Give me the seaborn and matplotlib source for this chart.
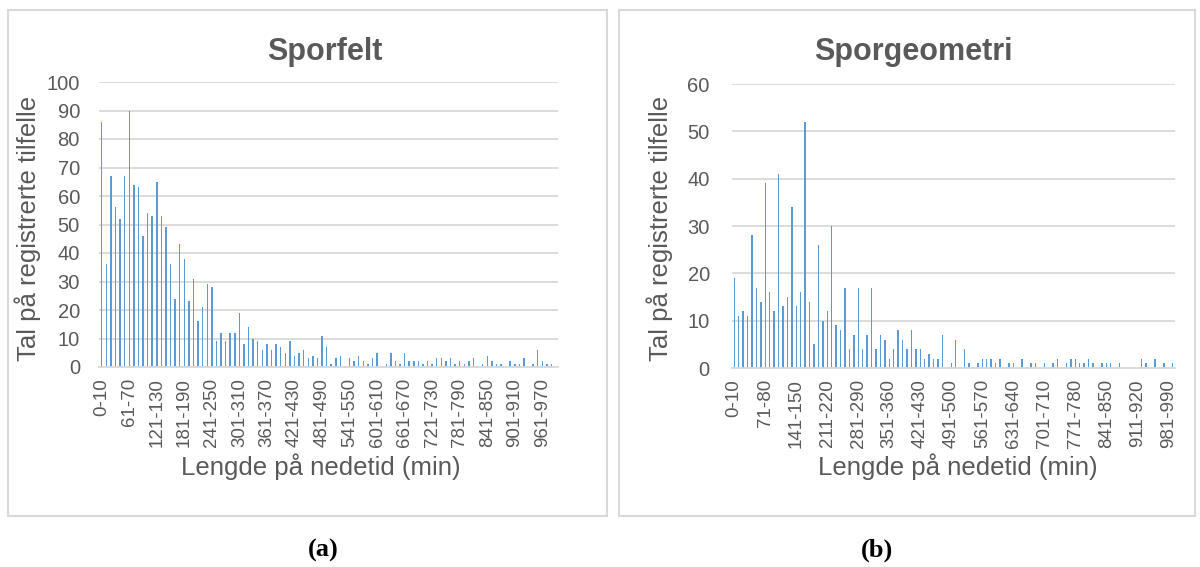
import numpy as np
import pandas as pd
import seaborn as sns
import matplotlib.pyplot as plt
from matplotlib.patches import Rectangle

# category labels: 10-minute bins of downtime length
bins = ["0-10"] + [f"{10*i+1}-{10*i+10}" for i in range(1, 100)]

# counts
sporfelt = [86, 36, 67, 56, 52, 67, 90, 64, 63, 46,
            54, 53, 65, 53, 49, 36, 24, 43, 38, 23,
            31, 16, 21, 29, 28, 9, 12, 9, 12, 12,
            19, 8, 14, 10, 9, 6, 8, 6, 8, 7,
            5, 9, 4, 5, 6, 3, 4, 3, 11, 7,
            1, 3, 4, 0, 3, 2, 4, 2, 1, 3,
            5, 0, 1, 5, 2, 1, 5, 2, 2, 2,
            1, 2, 1, 3, 3, 2, 3, 1, 2, 1,
            2, 3, 0, 1, 4, 2, 1, 1, 0, 2,
            1, 1, 3, 0, 1, 6, 2, 1, 1, 0]

sporgeometri = [19, 11, 12, 11, 28, 17, 14, 39, 16, 12,
                41, 13, 15, 34, 13, 16, 52, 14, 5, 26,
                10, 12, 30, 9, 8, 17, 4, 7, 17, 4,
                7, 17, 4, 7, 6, 2, 4, 8, 6, 4,
                8, 4, 4, 2, 3, 2, 2, 7, 0, 1,
                6, 0, 4, 1, 0, 1, 2, 2, 2, 1,
                2, 0, 1, 1, 0, 2, 0, 1, 1, 0,
                1, 0, 1, 2, 0, 1, 2, 2, 1, 1,
                2, 1, 0, 1, 1, 1, 0, 1, 0, 0,
                0, 0, 2, 1, 0, 2, 0, 1, 0, 1]

BLUE = "#5B9BD5"
GREY = "#595959"
LIGHT = "#D9D9D9"

sns.set_theme(style="white")
plt.rcParams["font.family"] = ["Liberation Sans", "DejaVu Sans"]

fig = plt.figure(figsize=(12, 5.67), dpi=100)
W, H = 1200, 567


def px_box(x0, y0, x1, y1):
    # pixel box (top-left origin) -> figure fraction [left, bottom, width, height]
    return [x0 / W, 1 - y1 / H, (x1 - x0) / W, (y1 - y0) / H]


# panel frames
for x0, x1 in [(8, 607), (619, 1195)]:
    l, b, w, h = px_box(x0, 10, x1, 516)
    fig.patches.append(Rectangle((l, b), w, h, transform=fig.transFigure,
                                 facecolor="none", edgecolor=LIGHT, lw=1.5))


def panel(box, values, step, ymax, ypad):
    ax = fig.add_axes(px_box(*box))
    df = pd.DataFrame({"bin": bins, "n": values})
    sns.barplot(data=df, x="bin", y="n", ax=ax, color=BLUE, saturation=1,
                width=0.32, linewidth=0)
    ax.set_xlim(-0.5, 99.5)
    ax.set_ylim(0, ymax)
    ax.set_yticks(range(0, ymax + 1, 10))
    ax.set_xticks(range(0, 100, step))
    ax.set_xticklabels(bins[::step], rotation=90)
    ax.grid(axis="y", color=LIGHT, lw=1.3)
    ax.set_axisbelow(True)
    for s in ["top", "right", "left"]:
        ax.spines[s].set_visible(False)
    ax.spines["bottom"].set_color(LIGHT)
    ax.spines["bottom"].set_linewidth(1.3)
    ax.tick_params(axis="both", length=0, colors=GREY)
    ax.tick_params(axis="y", pad=ypad, labelsize=14.5)
    ax.tick_params(axis="x", pad=8, labelsize=13.5)
    ax.set_xlabel("")
    ax.set_ylabel("")
    return ax


panel((99.4, 82, 558.4, 367), sporfelt, 6, 100, 14)
panel((732, 84, 1175, 368), sporgeometri, 7, 60, 16)

# titles and axis labels
fig.text(325 / W, 1 - 52 / H, "Sporfelt", ha="center", va="center",
         fontsize=22, fontweight="bold", color=GREY)
fig.text(913 / W, 1 - 52 / H, "Sporgeometri", ha="center", va="center",
         fontsize=22, fontweight="bold", color=GREY)

fig.text(28 / W, 1 - 228 / H, "Tal på registrerte tilfelle", rotation=90,
         ha="center", va="center", fontsize=18.5, color=GREY)
fig.text(660 / W, 1 - 228 / H, "Tal på registrerte tilfelle", rotation=90,
         ha="center", va="center", fontsize=18.5, color=GREY)

fig.text(321 / W, 1 - 467 / H, "Lengde på nedetid (min)", ha="center",
         va="center", fontsize=18.5, color=GREY)
fig.text(958 / W, 1 - 467 / H, "Lengde på nedetid (min)", ha="center",
         va="center", fontsize=18.5, color=GREY)

fig.text(323 / W, 1 - 550 / H, "(a)", ha="center", va="center", fontsize=19,
         fontweight="bold", family="Liberation Serif", color="black")
fig.text(877 / W, 1 - 550 / H, "(b)", ha="center", va="center", fontsize=19,
         fontweight="bold", family="Liberation Serif", color="black")

fig.savefig("out.png", dpi=100)
